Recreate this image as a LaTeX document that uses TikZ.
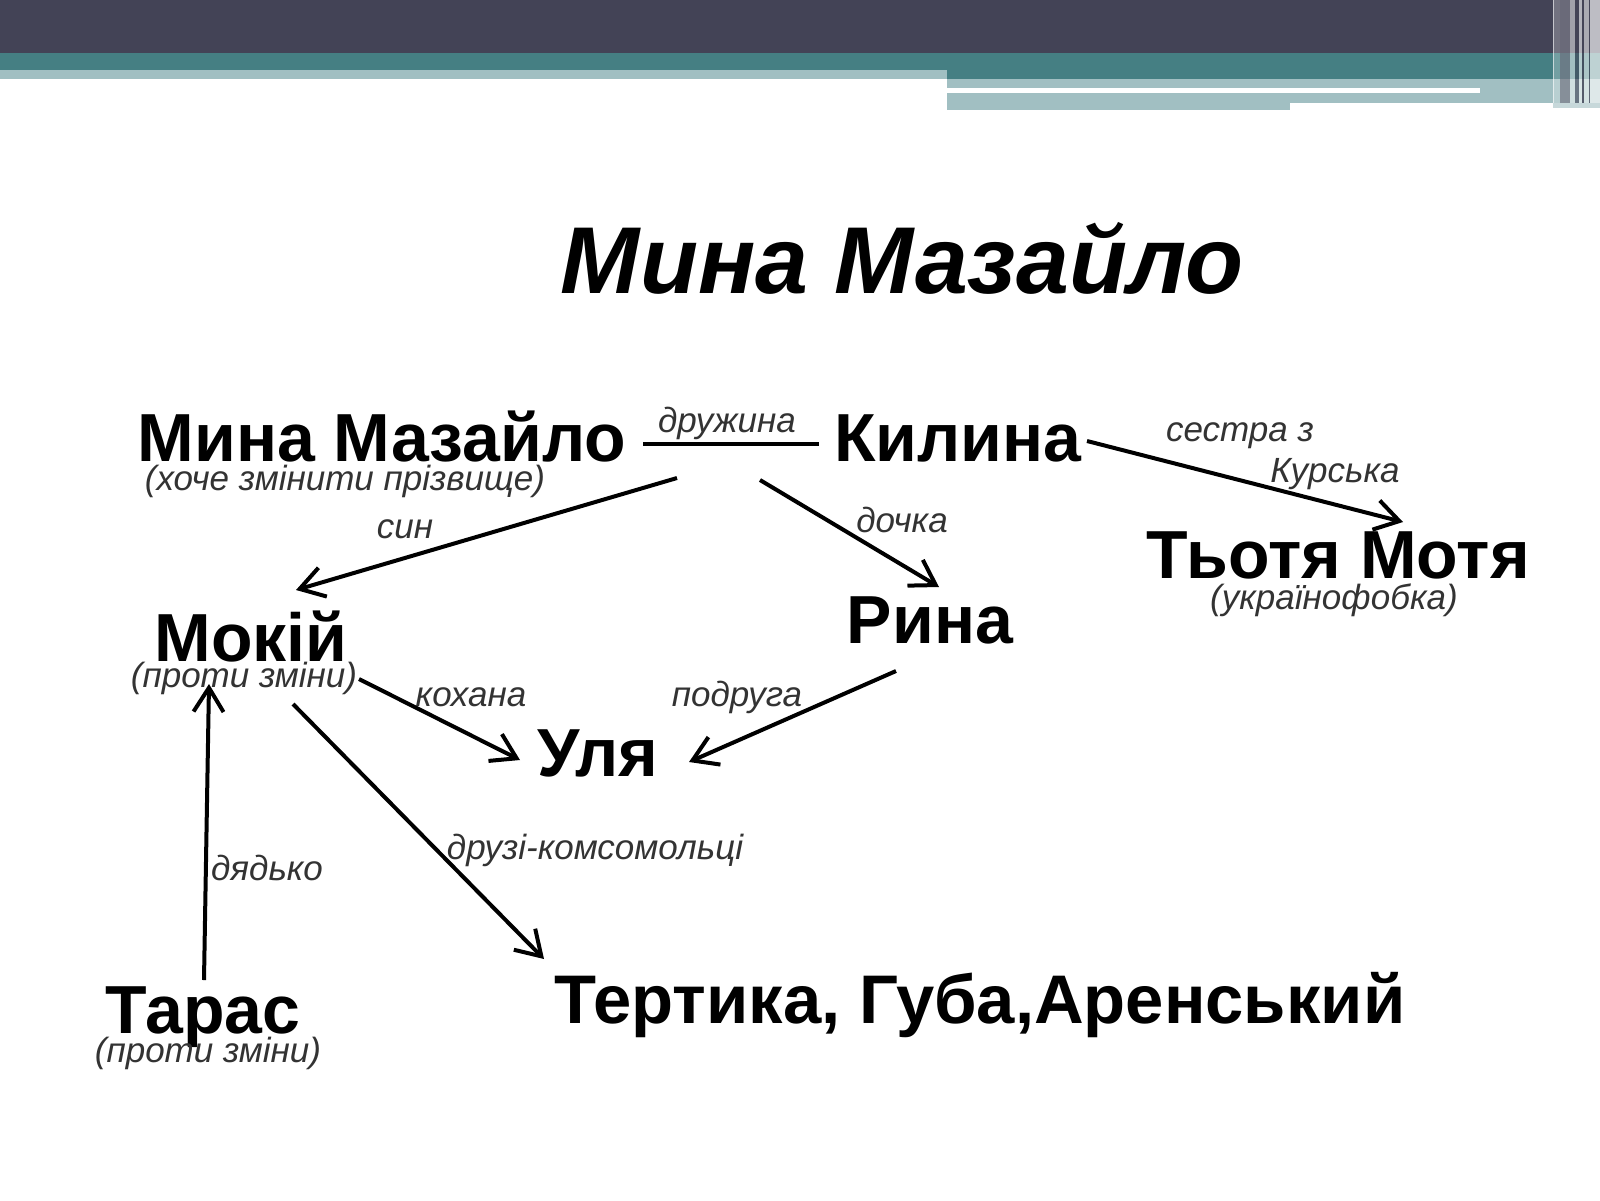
\documentclass[tikz,border=0pt]{standalone}
\usepackage{fontspec}
\setmainfont{Liberation Sans}
\usetikzlibrary{arrows.meta,calc}
\definecolor{hdark}{HTML}{434356}
\definecolor{hteal}{HTML}{457F83}
\definecolor{hlight}{HTML}{A1BFC2}
\definecolor{lblgray}{HTML}{333333}
\tikzset{
  person/.style={inner sep=0pt, anchor=base, font=\fontsize{34}{38}\selectfont\bfseries},
  note/.style={inner sep=0pt, anchor=base, text=lblgray, font=\fontsize{17.5}{20}\selectfont\itshape},
  rel/.style={inner sep=0pt, anchor=base, text=lblgray, font=\fontsize{17.5}{20}\selectfont\itshape},
  link/.style={line width=2pt, black},
  arr/.style={link, -{Straight Barb[length=12pt,width=15pt,line width=2pt]}},
}
\begin{document}
\begin{tikzpicture}[x=0.5pt,y=-0.5pt]
\useasboundingbox (0,0) rectangle (1600,1200);
\fill[white] (0,0) rectangle (1600,1200);
% header bands
\fill[hdark] (0,0) rectangle (1600,53);
\fill[hteal] (0,53) rectangle (947,70);
\fill[hlight] (0,70) rectangle (947,79);
\fill[hteal] (947,53) rectangle (1600,79);
\fill[hlight] (947,79) rectangle (1600,103);
\fill[hlight] (947,103) rectangle (1290,110);
\fill[white] (947,88) rectangle (1480,93);
% right stripes
\fill[white,opacity=0.25] (1553,0) rectangle (1560,108);
\fill[white,opacity=0.6] (1553,0) rectangle (1554,108);
\fill[hdark!70!white,opacity=0.7] (1560,0) rectangle (1570,108);
\fill[white,opacity=0.5] (1570,0) rectangle (1575,108);
\fill[hdark,opacity=0.6] (1575,0) rectangle (1579,108);
\fill[white,opacity=0.6] (1579,0) rectangle (1582,108);
\fill[hdark,opacity=0.8] (1582,0) rectangle (1584,108);
\fill[white,opacity=0.55] (1584,0) rectangle (1589,108);
\fill[hdark,opacity=0.7] (1589,0) rectangle (1590,108);
\fill[white,opacity=0.65] (1590,0) rectangle (1600,108);
\fill[hlight!60!white] (1553,103) rectangle (1600,108);

% title
\node[inner sep=0pt, anchor=base, font=\fontsize{47.5}{52}\selectfont\bfseries\itshape] (title) at (902,293) {Мина Мазайло};

% persons
\node[person] (mina) at (382,461) {Мина Мазайло};
\node[note] (minanote) at (345,490) {(хоче змінити прізвище)};
\node[person] (kilina) at (958,461) {Килина};
\node[person] (motya) at (1338,578) {Тьотя Мотя};
\node[note] (motyanote) at (1334,609) {(українофобка)};
\node[person] (rina) at (930,643) {Рина};
\node[person] (mokiy) at (251,661) {Мокій};
\node[note] (mokiynote) at (244,687) {(проти зміни)};
\node[person] (ulya) at (598,776) {Уля};
\node[person] (taras) at (203,1033) {Тарас};
\node[note] (tarasnote) at (208,1062) {(проти зміни)};
\node[person, font=\fontsize{34.4}{38}\selectfont\bfseries] (tertyka) at (980,1023) {Тертика, Губа,Аренський};

% relation labels
\node[rel] (ldruzh) at (727,432) {дружина};
\node[rel] (lsestra) at (1240,441) {сестра з};
\node[rel] (lkursk) at (1335,482) {Курська};
\node[rel] (lsyn) at (405,538) {син};
\node[rel] (ldochka) at (902,532) {дочка};
\node[rel] (lkohana) at (471,706) {кохана};
\node[rel] (lpodruga) at (737,706) {подруга};
\node[rel] (ldruzi) at (595,859) {друзі-комсомольці};
\node[rel] (ldyadko) at (267,880) {дядько};

% connectors
\draw[link] ($(mina.base)+(261,-17)$) -- ($(kilina.base)+(-139,-17)$);
\draw[arr] ($(mina.base)+(295,17)$) -- ($(mokiy.base)+(45,-71)$);
\draw[arr] ($(mina.base)+(378,19)$) -- ($(rina.base)+(9,-56)$);
\draw[arr] ($(kilina.base)+(129,-20)$) -- ($(motya.base)+(65,-56)$);
\draw[arr] ($(mokiy.base)+(108,18)$) -- ($(ulya.base)+(-78,-16)$);
\draw[arr] ($(rina.base)+(-34,28)$) -- ($(ulya.base)+(91,-14)$);
\draw[arr] ($(mokiy.base)+(42,43)$) -- ($(tertyka.base)+(-436,-64)$);
\draw[arr] ($(taras.base)+(1,-53)$) -- ($(mokiy.base)+(-42,23)$);
\end{tikzpicture}
\end{document}
